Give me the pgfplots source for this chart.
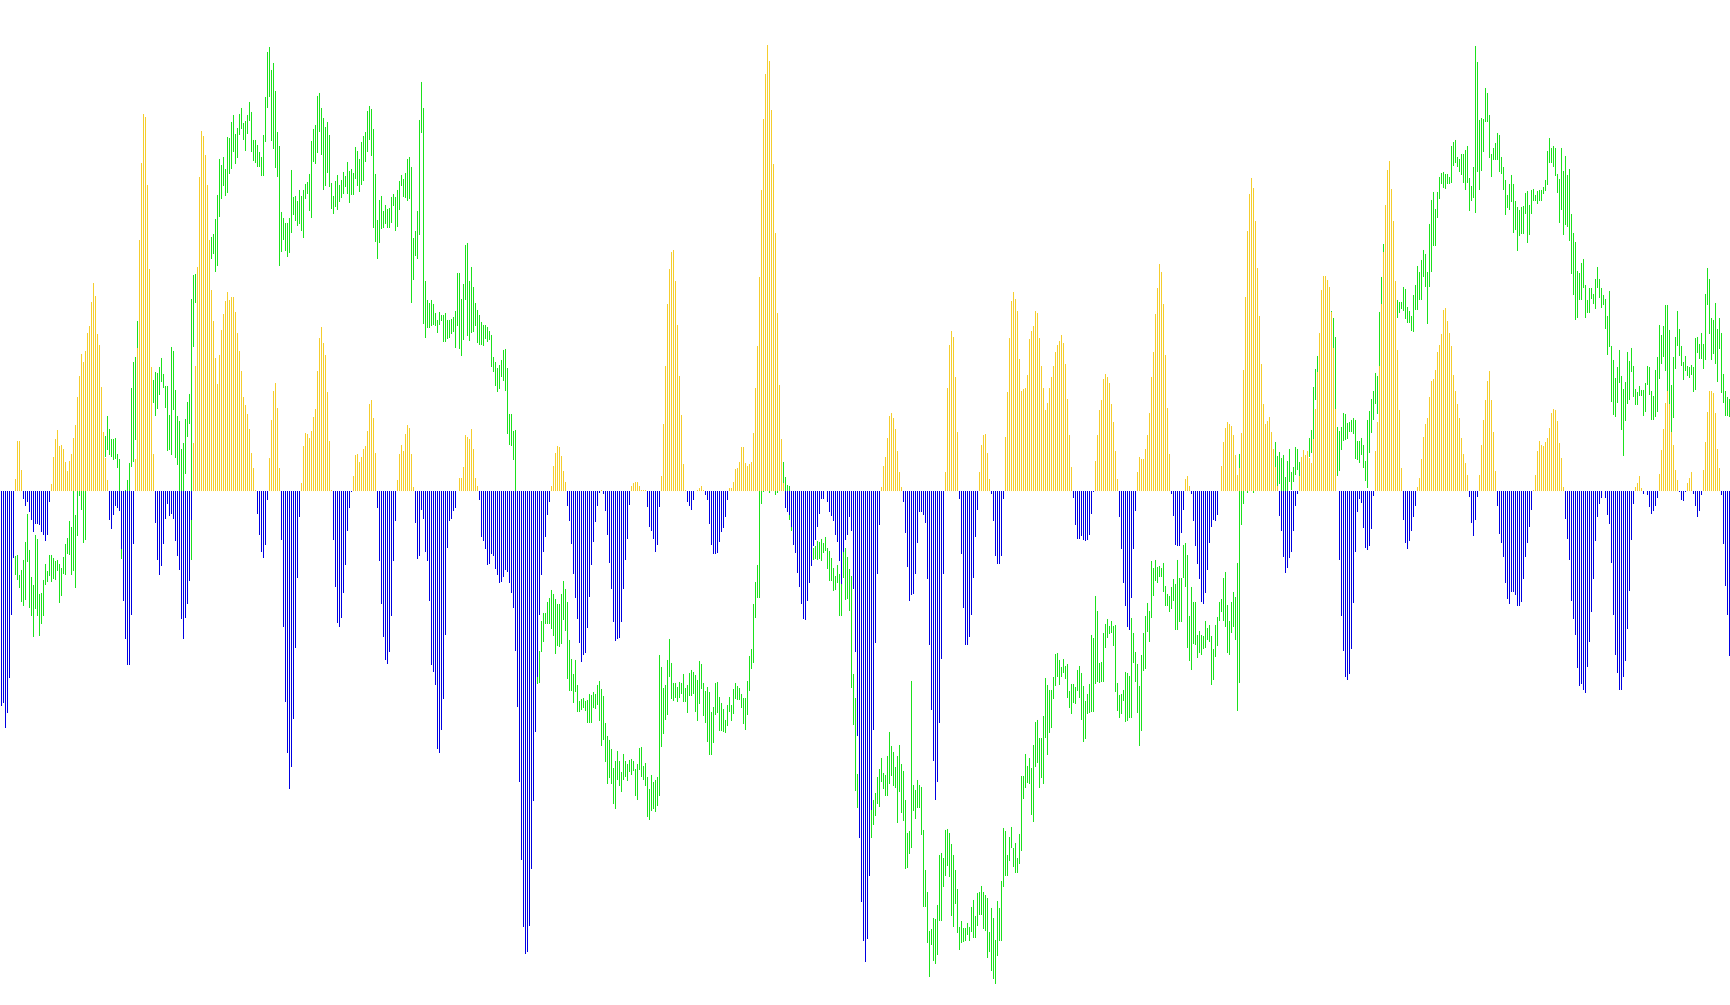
\documentclass[border=0pt]{standalone}
\usepackage{pgfplots}
\usepackage{pgfplotstable}
\pgfplotsset{compat=1.18}
\definecolor{gbar}{RGB}{28,225,28}
\definecolor{ybar}{RGB}{245,205,45}
\definecolor{bbar}{RGB}{0,0,225}
\pgfplotstableread{
i h top bot
0 -215 530 560
1 -212 530 560
2 -237 530 560
3 -222 530 560
4 -187 530 560
5 -124 530 560
6 -67 540 558
7 12 556 575
8 50 555 580
9 50 575 588
10 21 570 602
11 -8 560 606
12 -15 542 600
13 -11 514 562
14 -21 550 608
15 -29 577 616
16 -41 585 637
17 -33 535 609
18 -33 539 616
19 -34 594 636
20 -41 593 624
21 -44 580 616
22 -50 564 585
23 -44 571 582
24 -11 555 576
25 7 555 582
26 34 558 579
27 52 561 580
28 61 560 571
29 45 564 603
30 46 568 596
31 42 557 574
32 29 544 575
33 20 538 554
34 30 521 555
35 37 527 575
36 53 480 571
37 66 515 588
38 94 470 536
39 115 460 496
40 137 450 510
41 129 430 543
42 140 420 540
43 158 410 480
44 165 400 470
45 189 400 470
46 208 410 470
47 195 420 470
48 157 420 470
49 146 420 470
50 104 420 470
51 59 440 480
52 33 436 457
53 11 416 450
54 -29 429 455
55 -38 439 457
56 -24 439 460
57 -15 438 459
58 -17 454 468
59 -20 459 491
60 -58 500 559
61 -110 500 560
62 -148 490 560
63 -174 480 540
64 -174 463 491
65 -124 388 467
66 -53 362 462
67 32 357 440
68 143 321 348
69 251 290 330
70 328 300 340
71 377 300 345
72 374 290 340
73 306 290 340
74 222 290 330
75 124 370 400
76 37 380 403
77 -32 372 416
78 -69 373 409
79 -84 367 395
80 -75 358 382
81 -53 374 388
82 -28 386 408
83 -13 386 451
84 -25 415 450
85 -23 347 455
86 -28 351 410
87 -50 390 458
88 -65 416 465
89 -79 421 491
90 -128 449 491
91 -148 443 491
92 -127 419 474
93 -113 402 437
94 -90 394 424
95 -29 299 560
96 48 275 347
97 125 274 303
98 224 280 320
99 314 250 300
100 360 250 290
101 355 240 280
102 336 240 280
103 306 240 280
104 251 241 270
105 201 237 259
106 170 234 254
107 133 219 272
108 107 195 266
109 136 159 217
110 161 165 199
111 177 157 186
112 190 169 196
113 199 137 193
114 191 138 174
115 194 122 169
116 194 115 152
117 179 134 164
118 158 128 158
119 140 114 135
120 120 108 129
121 94 123 140
122 86 121 151
123 77 115 134
124 62 102 121
125 38 112 152
126 23 140 161
127 1 140 163
128 -23 145 167
129 -44 152 167
130 -61 157 176
131 -67 135 176
132 -54 97 142
133 -9 52 108
134 33 47 97
135 71 70 141
136 100 63 149
137 108 91 168
138 83 132 177
139 23 146 266
140 -49 212 252
141 -136 218 240
142 -211 223 251
143 -262 223 257
144 -298 218 253
145 -276 170 233
146 -228 197 215
147 -157 196 221
148 -87 201 226
149 -26 190 224
150 8 196 231
151 45 190 238
152 58 184 199
153 57 182 194
154 53 174 211
155 60 141 218
156 74 129 162
157 82 125 164
158 120 96 153
159 153 93 132
160 164 108 155
161 148 118 190
162 136 127 186
163 99 122 173
164 50 135 187
165 1 183 209
166 -49 196 214
167 -96 181 207
168 -132 175 210
169 -136 185 202
170 -127 180 198
171 -102 172 194
172 -74 176 187
173 -40 162 194
174 -17 171 203
175 -1 169 195
176 15 173 195
177 36 147 179
178 37 151 186
179 29 159 192
180 34 142 185
181 42 136 181
182 45 132 162
183 60 111 152
184 87 106 140
185 91 109 156
186 73 129 228
187 38 174 242
188 -17 220 259
189 -70 200 243
190 -113 196 229
191 -146 211 228
192 -169 205 224
193 -173 209 228
194 -161 208 228
195 -125 197 223
196 -70 194 206
197 -30 197 231
198 11 190 227
199 37 181 210
200 46 175 186
201 40 179 197
202 57 173 198
203 66 159 201
204 63 157 199
205 37 167 303
206 4 238 280
207 -32 231 256
208 -68 211 259
209 -65 120 235
210 -19 82 133
211 -28 108 324
212 -61 281 338
213 -70 300 328
214 -110 303 328
215 -174 300 326
216 -181 304 325
217 -194 313 326
218 -258 320 333
219 -262 312 325
220 -239 315 321
221 -208 315 342
222 -144 313 342
223 -57 320 339
224 -30 320 338
225 -28 319 334
226 -20 317 332
227 -17 311 348
228 0 273 326
229 13 273 349
230 13 299 356
231 24 284 340
232 56 245 300
233 54 243 336
234 52 281 341
235 62 267 333
236 42 287 332
237 13 303 326
238 5 310 343
239 -9 315 345
240 -46 322 345
241 -50 325 346
242 -58 325 339
243 -74 327 342
244 -73 331 340
245 -63 335 367
246 -65 357 372
247 -78 362 386
248 -84 368 392
249 -92 365 389
250 -91 360 377
251 -86 350 381
252 -79 349 391
253 -81 368 434
254 -92 414 445
255 -102 414 446
256 -117 431 460
257 -160 430 520
258 -216 491 520
259 -291 500 540
260 -369 520 565
261 -436 540 590
262 -463 570 610
263 -461 590 640
264 -435 610 660
265 -378 640 680
266 -310 660 700
267 -241 670 690
268 -186 676 684
269 -124 651 683
270 -84 621 652
271 -61 613 642
272 -46 613 624
273 -24 602 624
274 -11 598 624
275 5 590 629
276 25 594 636
277 38 599 654
278 45 604 646
279 44 604 647
280 35 594 644
281 20 581 620
282 9 589 631
283 -15 602 679
284 -30 640 691
285 -53 659 691
286 -83 674 703
287 -107 660 692
288 -128 685 712
289 -152 701 712
290 -171 699 710
291 -164 698 708
292 -162 701 711
293 -137 700 723
294 -106 694 723
295 -74 695 723
296 -51 692 708
297 -31 694 709
298 -15 685 705
299 -2 681 721
300 1 689 746
301 -3 696 740
302 -20 723 762
303 -44 736 784
304 -72 740 778
305 -98 749 784
306 -131 768 804
307 -150 761 809
308 -148 751 780
309 -147 761 786
310 -131 772 792
311 -98 754 780
312 -69 761 777
313 -48 764 781
314 -14 760 772
315 5 759 775
316 8 761 771
317 9 769 796
318 9 764 800
319 5 748 770
320 1 747 777
321 1 766 780
322 1 763 786
323 -16 777 817
324 -36 789 820
325 -40 775 811
326 -48 782 809
327 -61 780 812
328 -54 777 806
329 -16 655 796
330 15 667 747
331 67 688 734
332 125 685 720
333 187 660 715
334 222 639 677
335 239 663 699
336 241 683 701
337 210 683 698
338 166 687 702
339 115 682 698
340 76 683 694
341 27 674 702
342 1 688 702
343 -11 685 713
344 -15 673 696
345 -19 670 696
346 -9 672 694
347 0 675 712
348 1 680 721
349 3 661 704
350 5 664 689
351 1 683 716
352 -4 691 723
353 -9 687 742
354 -33 692 755
355 -54 712 755
356 -63 707 743
357 -63 683 715
358 -62 682 713
359 -51 697 731
360 -41 703 731
361 -37 709 732
362 -26 720 733
363 -9 705 726
364 3 697 712
365 3 705 721
366 9 689 714
367 22 683 699
368 23 686 700
369 29 688 700
370 44 694 708
371 44 698 724
372 28 698 730
373 25 681 715
374 27 656 691
375 29 649 669
376 58 604 663
377 103 582 618
378 145 565 598
379 214 480 598
380 301 480 504
381 372 470 492
382 417 470 491
383 446 470 491
384 430 470 493
385 381 470 491
386 327 470 491
387 258 470 495
388 178 470 493
389 106 465 491
390 52 460 491
391 8 462 491
392 -17 477 491
393 -21 485 491
394 -24 486 520
395 -36 491 531
396 -54 500 540
397 -62 510 550
398 -82 520 560
399 -96 525 570
400 -113 530 575
401 -128 535 570
402 -129 535 570
403 -110 540 570
404 -92 545 570
405 -75 545 562
406 -55 548 560
407 -49 546 559
408 -36 541 560
409 -23 542 559
410 -8 539 561
411 -8 543 553
412 0 537 551
413 -11 548 569
414 -21 551 581
415 -25 558 581
416 -30 568 591
417 -44 576 590
418 -51 565 583
419 -70 574 616
420 -93 569 616
421 -61 552 578
422 -49 548 600
423 -44 557 599
424 -26 569 611
425 -40 576 688
426 -98 674 725
427 -161 698 791
428 -245 774 808
429 -347 790 825
430 -411 800 840
431 -450 810 850
432 -471 810 850
433 -448 810 850
434 -385 805 840
435 -319 805 838
436 -239 800 825
437 -152 793 816
438 -83 777 804
439 -34 769 807
440 4 758 782
441 25 773 789
442 34 775 796
443 53 756 796
444 75 732 784
445 78 746 776
446 73 752 786
447 62 767 788
448 40 756 823
449 19 745 792
450 4 764 813
451 -11 771 821
452 -42 800 869
453 -76 833 868
454 -110 831 854
455 -104 681 848
456 -103 785 811
457 -83 790 819
458 -52 780 808
459 -21 785 808
460 -21 787 835
461 -24 830 907
462 -32 870 907
463 -88 892 943
464 -154 931 977
465 -219 929 945
466 -270 918 961
467 -309 919 964
468 -291 905 955
469 -232 855 921
470 -168 853 921
471 -83 858 887
472 19 830 876
473 103 829 866
474 146 833 877
475 160 844 916
476 154 855 927
477 114 870 904
478 59 889 933
479 -8 927 950
480 -63 921 943
481 -117 928 942
482 -154 928 941
483 -154 923 935
484 -146 927 941
485 -124 907 932
486 -87 900 938
487 -46 916 938
488 -19 893 926
489 19 892 915
490 46 886 915
491 56 892 929
492 57 895 931
493 38 898 958
494 12 932 952
495 -3 908 971
496 -30 918 979
497 -65 940 984
498 -73 901 956
499 -73 908 941
500 -65 881 941
501 -8 828 887
502 54 831 876
503 99 855 876
504 153 837 861
505 190 827 848
506 199 848 867
507 192 843 873
508 180 858 873
509 132 834 864
510 100 776 851
511 102 776 799
512 103 754 788
513 116 766 783
514 152 758 784
515 160 768 815
516 165 745 822
517 180 722 767
518 178 720 763
519 153 738 788
520 125 738 778
521 103 716 784
522 81 678 738
523 88 685 755
524 103 690 733
525 114 690 728
526 125 677 699
527 139 654 686
528 146 653 677
529 150 660 685
530 156 667 677
531 148 659 673
532 127 666 679
533 92 664 698
534 56 691 708
535 24 684 714
536 -7 684 703
537 -34 687 704
538 -48 670 691
539 -48 666 698
540 -45 673 720
541 -49 686 742
542 -50 701 739
543 -49 694 714
544 -44 684 713
545 -23 635 712
546 -1 638 712
547 30 596 684
548 56 611 682
549 81 663 683
550 91 662 682
551 112 633 682
552 117 624 648
553 114 619 638
554 108 626 634
555 87 621 633
556 69 626 646
557 40 625 692
558 12 683 711
559 -26 695 718
560 -58 694 714
561 -92 690 701
562 -115 672 722
563 -136 673 721
564 -139 676 718
565 -107 618 718
566 -58 633 663
567 -20 652 682
568 19 664 713
569 34 686 746
570 32 655 731
571 32 633 671
572 42 616 669
573 56 603 632
574 78 611 642
575 114 561 618
576 139 568 596
577 177 560 581
578 203 567 583
579 227 566 577
580 219 568 577
581 187 563 592
582 136 586 606
583 83 594 606
584 37 596 612
585 -3 587 609
586 -25 579 601
587 -54 584 630
588 -55 560 630
589 -55 578 622
590 -42 578 622
591 -19 545 578
592 12 543 587
593 15 555 648
594 5 616 661
595 -3 587 670
596 -30 602 644
597 -55 602 645
598 -73 635 658
599 -88 631 653
600 -111 635 655
601 -113 636 649
602 -102 621 648
603 -79 628 640
604 -52 625 642
605 -36 636 685
606 -29 649 680
607 -30 625 657
608 -24 617 646
609 0 602 621
610 25 599 612
611 49 578 621
612 63 572 627
613 69 605 653
614 67 621 655
615 65 602 633
616 56 592 627
617 36 597 640
618 16 563 711
619 23 454 683
620 58 470 525
621 121 475 504
622 194 470 490
623 260 470 493
624 297 470 490
625 313 470 490
626 303 470 493
627 270 470 490
628 223 470 490
629 175 470 490
630 127 470 490
631 87 470 490
632 67 470 490
633 70 470 490
634 74 470 490
635 59 470 490
636 42 470 490
637 24 442 467
638 5 456 486
639 -25 452 484
640 -40 458 491
641 -66 455 491
642 -82 477 491
643 -77 461 491
644 -67 449 482
645 -61 472 490
646 -40 467 482
647 -15 447 475
648 -3 449 470
649 15 462 476
650 34 460 480
651 41 460 480
652 36 460 480
653 40 451 457
654 33 438 457
655 28 430 453
656 52 387 439
657 82 369 400
658 119 356 372
659 158 400 450
660 201 400 450
661 215 400 450
662 215 400 450
663 211 400 450
664 204 400 450
665 179 311 340
666 143 318 348
667 82 337 409
668 0 427 476
669 -69 431 471
670 -125 427 450
671 -160 413 441
672 -186 414 440
673 -189 423 439
674 -183 422 432
675 -158 420 432
676 -112 418 434
677 -61 420 459
678 -21 441 460
679 -8 441 463
680 -12 438 455
681 -37 445 468
682 -57 461 481
683 -59 420 488
684 -55 411 453
685 -38 399 433
686 -5 391 420
687 40 373 404
688 69 376 414
689 125 312 366
690 187 277 304
691 239 244 252
692 286 220 260
693 321 215 250
694 330 200 240
695 302 195 235
696 270 230 270
697 210 283 310
698 141 300 318
699 81 302 313
700 23 302 309
701 -29 287 311
702 -52 289 319
703 -58 307 323
704 -50 311 323
705 -40 316 331
706 -26 295 332
707 -15 285 310
708 4 266 310
709 13 272 300
710 32 260 300
711 54 250 277
712 67 254 287
713 73 272 324
714 94 224 287
715 110 200 272
716 112 192 246
717 121 209 246
718 139 192 218
719 146 177 199
720 157 173 184
721 181 172 188
722 183 174 189
723 170 174 184
724 158 177 184
725 145 146 183
726 116 142 166
727 100 140 163
728 87 157 167
729 73 159 172
730 53 154 175
731 37 154 183
732 28 150 190
733 16 146 183
734 -6 178 211
735 -32 186 201
736 -45 167 198
737 -29 46 213
738 -6 62 172
739 16 120 190
740 46 118 171
741 71 119 152
742 91 88 122
743 110 93 122
744 120 115 158
745 91 154 177
746 59 148 160
747 20 143 160
748 -15 133 160
749 -43 135 172
750 -52 157 174
751 -66 167 190
752 -92 180 215
753 -108 195 208
754 -113 184 210
755 -101 175 202
756 -101 184 233
757 -104 201 230
758 -115 207 251
759 -115 210 236
760 -111 207 234
761 -88 206 234
762 -66 193 214
763 -52 191 243
764 -36 205 235
765 -19 190 214
766 1 189 201
767 16 195 201
768 40 191 204
769 50 190 201
770 46 190 201
771 45 187 194
772 49 180 191
773 53 151 185
774 63 138 163
775 78 148 163
776 82 146 167
777 81 148 176
778 70 174 193
779 48 179 223
780 33 148 210
781 4 171 235
782 -28 156 225
783 -48 175 227
784 -69 169 241
785 -110 214 274
786 -128 233 295
787 -144 242 320
788 -177 271 318
789 -195 273 300
790 -193 263 300
791 -199 259 288
792 -202 285 318
793 -176 300 313
794 -151 288 313
795 -121 288 299
796 -88 294 304
797 -50 279 309
798 -26 267 288
799 -13 279 298
800 -7 288 308
801 0 295 305
802 -7 299 329
803 -24 316 355
804 -33 291 347
805 -72 346 402
806 -124 360 415
807 -164 378 417
808 -182 367 403
809 -199 350 383
810 -199 376 430
811 -186 389 456
812 -170 382 421
813 -138 352 404
814 -100 361 400
815 -49 348 372
816 -13 366 397
817 4 389 405
818 8 392 405
819 15 386 396
820 3 390 396
821 -3 390 416
822 0 383 412
823 -4 366 385
824 -16 367 395
825 -23 391 420
826 -20 396 420
827 -15 370 417
828 -7 357 412
829 17 325 379
830 41 335 364
831 62 326 357
832 88 305 371
833 100 305 392
834 87 330 405
835 59 385 432
836 46 357 418
837 21 337 369
838 11 311 346
839 -1 329 356
840 -9 346 366
841 -10 362 380
842 -1 356 371
843 8 366 376
844 13 367 378
845 19 365 375
846 -3 367 392
847 -15 338 390
848 -26 337 353
849 -20 344 359
850 -4 333 359
851 21 344 369
852 49 294 360
853 79 268 305
854 100 279 334
855 100 318 360
856 98 320 354
857 78 303 364
858 42 329 382
859 23 318 349
860 -4 333 393
861 -53 374 403
862 -95 391 416
863 -124 397 416
864 -165 399 417
}\datatab
\begin{document}
\begin{tikzpicture}
\begin{axis}[
  at={(0,0)}, anchor=south west,
  scale only axis, width=865bp, height=502.5bp,
  hide axis, clip=true,
  xmin=0, xmax=1730, ymin=-513.5, ymax=491.5,
]
\addplot[draw=none, no marks, forget plot,
  error bars/.cd, y dir=minus, y explicit, error mark=none,
  error bar style={line width=0.5bp, color=gbar, line cap=butt}]
  table[x expr={2*\thisrow{i}+1.5}, y expr={491.5-\thisrow{top}},
        y error minus expr={\thisrow{bot}-\thisrow{top}}] {\datatab};
\addplot[ycomb, no marks, forget plot, color=ybar, line width=0.5bp, line cap=butt]
  table[x expr={2*\thisrow{i}+1.5}, y expr={max(\thisrow{h},0)}] {\datatab};
\addplot[ycomb, no marks, forget plot, color=bbar, line width=0.5bp, line cap=butt]
  table[x expr={2*\thisrow{i}+1.5}, y expr={min(\thisrow{h},0)}] {\datatab};
\end{axis}
\pgfresetboundingbox
\path[use as bounding box] (0,0) rectangle (865bp,502.5bp);
\end{tikzpicture}
\end{document}
